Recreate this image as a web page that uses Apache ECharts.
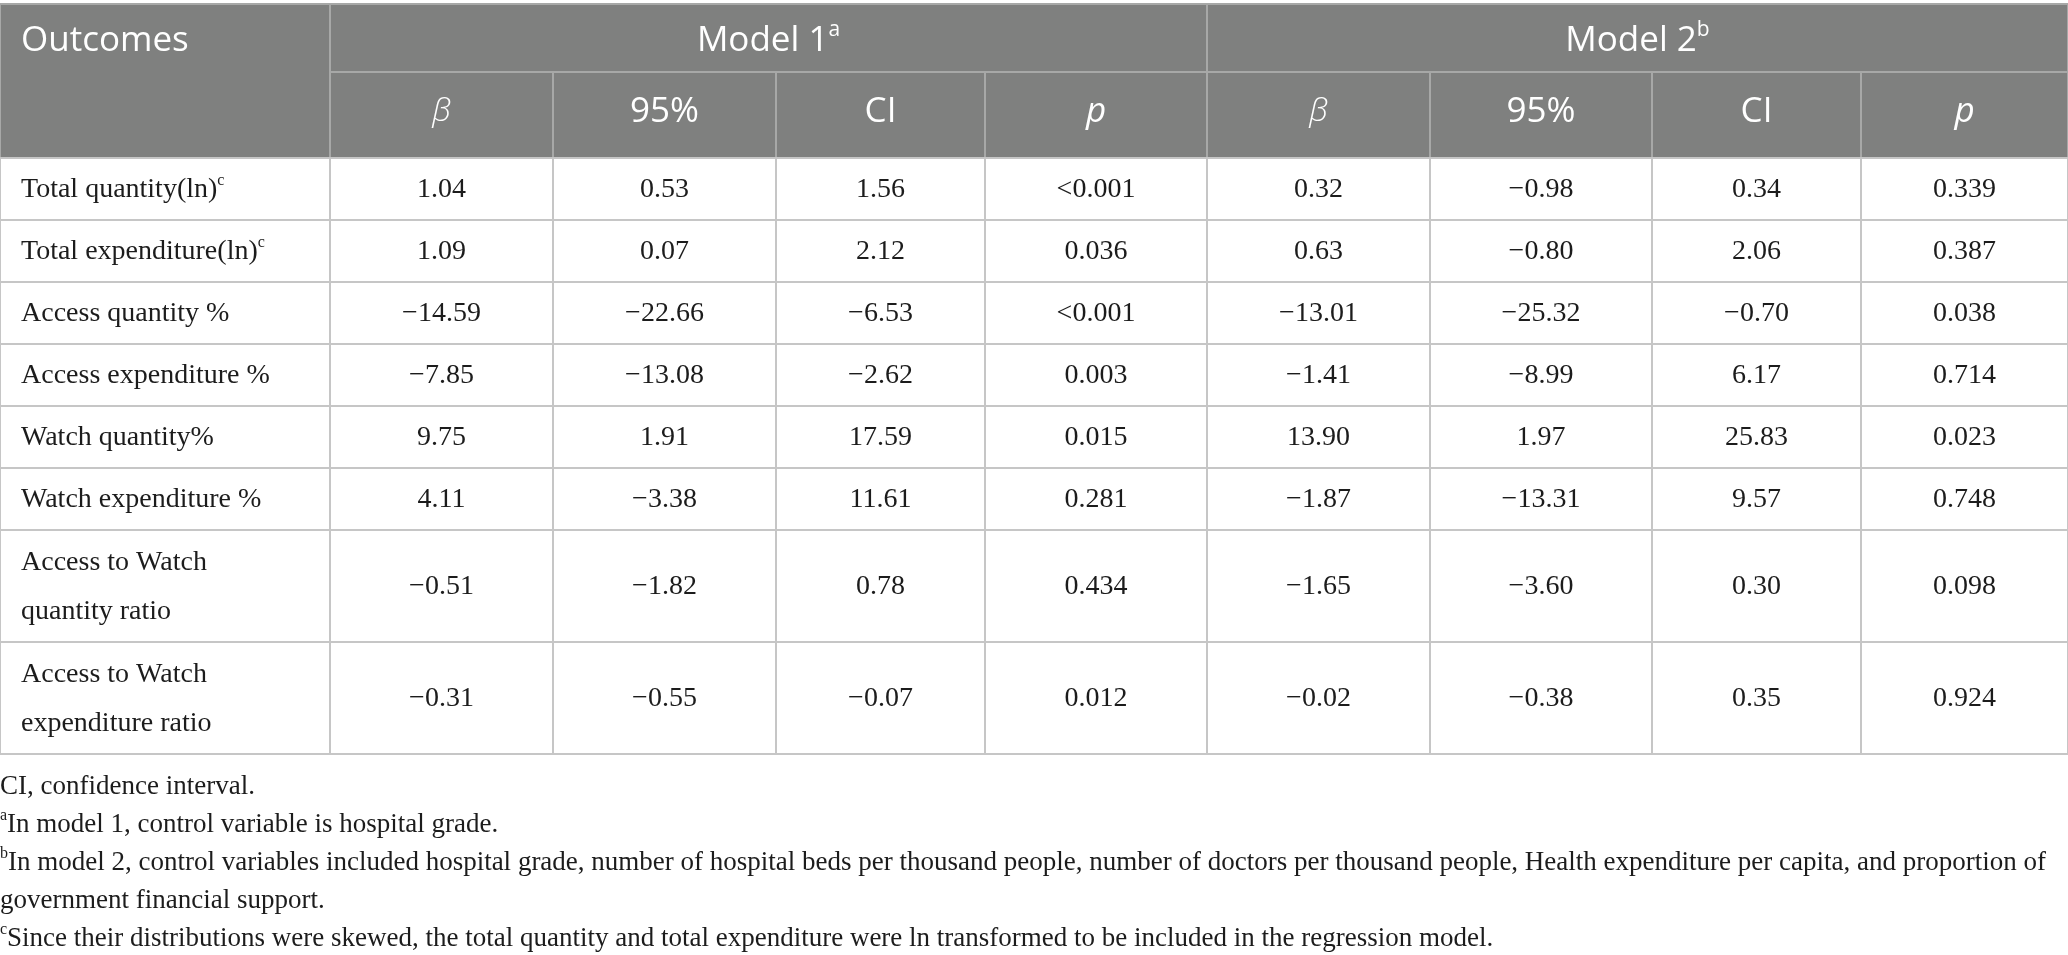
<!DOCTYPE html>
<html>
<head>
<meta charset="utf-8">
<script src="https://cdn.jsdelivr.net/npm/echarts@6/dist/echarts.min.js"></script>
<style>
html,body{margin:0;padding:0;background:#ffffff;}
#chart{width:2068px;height:955px;}
</style>
</head>
<body>
<div id="chart"></div>
<script>
// ---------------- data ----------------
const rowHeaderTitle = 'Outcomes';
const groupHeaders = ['Model 1', 'Model 2'];
const groupNotes = ['a', 'b'];
const subHeaders = ['β', '95%', 'CI', 'p'];
const subItalic = [true, false, false, true];

const outcomeLabels = [
  'Total quantity(ln)',
  'Total expenditure(ln)',
  'Access quantity %',
  'Access expenditure %',
  'Watch quantity%',
  'Watch expenditure %',
  'Access to Watch\nquantity ratio',
  'Access to Watch\nexpenditure ratio'
];
const outcomeNotes = ['c', 'c', '', '', '', '', '', ''];

const m1Beta  = [1.04, 1.09, -14.59, -7.85, 9.75, 4.11, -0.51, -0.31];
const m1Lower = [0.53, 0.07, -22.66, -13.08, 1.91, -3.38, -1.82, -0.55];
const m1Upper = [1.56, 2.12, -6.53, -2.62, 17.59, 11.61, 0.78, -0.07];
const m1P     = ['<0.001', '0.036', '<0.001', '0.003', '0.015', '0.281', '0.434', '0.012'];

const m2Beta  = [0.32, 0.63, -13.01, -1.41, 13.90, -1.87, -1.65, -0.02];
const m2Lower = [-0.98, -0.80, -25.32, -8.99, 1.97, -13.31, -3.60, -0.38];
const m2Upper = [0.34, 2.06, -0.70, 6.17, 25.83, 9.57, 0.30, 0.35];
const m2P     = ['0.339', '0.387', '0.038', '0.714', '0.023', '0.748', '0.098', '0.924'];

const footnoteNotes = ['', 'a', 'b', '', 'c'];
const footnoteTexts = [
  'CI, confidence interval.',
  'In model 1, control variable is hospital grade.',
  'In model 2, control variables included hospital grade, number of hospital beds per thousand people, number of doctors per thousand people, Health expenditure per capita, and proportion of',
  'government financial support.',
  'Since their distributions were skewed, the total quantity and total expenditure were ln transformed to be included in the regression model.'
];

// ---------------- layout (not data) ----------------
const colWidths = [330, 223, 223, 209, 222, 223, 222, 209, 207];
const rowHeights = [68, 86, 62, 62, 62, 62, 62, 62, 112, 112];
const HEAD_BG = '#7f807f';
const HEAD_LINE = '#a7a8a7';
const BODY_LINE = '#c6c6c6';
const TEXT = '#1c1c1c';
const SERIF = '"Liberation Serif", "DejaVu Serif", serif';
const SANS = '"Open Sans", "Noto Sans", sans-serif';

function cumulative(a) { const r = [0]; a.forEach(v => r.push(r[r.length - 1] + v)); return r; }
const colEdges = cumulative(colWidths);
const rowEdges = cumulative(rowHeights);

function fmt(v) { return (v < 0 ? '\u2212' : '') + Math.abs(v).toFixed(2); }

const RICH = {
  hm: { fontFamily: SANS, fontSize: 35, fill: '#ffffff', lineHeight: 44 },
  hs: { fontFamily: SANS, fontSize: 21, fill: '#ffffff', lineHeight: 16, padding: [0, 0, 22, 0] },
  hi: { fontFamily: SANS, fontSize: 35, fill: '#ffffff', fontStyle: 'italic', lineHeight: 44 },
  hb: { fontFamily: SANS, fontSize: 32, fontWeight: 300, fill: '#ffffff', fontStyle: 'italic', lineHeight: 44 },
  b:  { fontFamily: SERIF, fontSize: 28, fill: TEXT, lineHeight: 49 },
  bn: { fontFamily: SERIF, fontSize: 28, fill: TEXT },
  bs: { fontFamily: SERIF, fontSize: 16, fill: TEXT, lineHeight: 14, padding: [0, 0, 19, 0] },
  f:  { fontFamily: SERIF, fontSize: 27, fill: TEXT, lineHeight: 38 },
  fs: { fontFamily: SERIF, fontSize: 16, fill: TEXT, lineHeight: 14, padding: [0, 0, 18, 0] }
};

// ---------------- cells ----------------
const cells = [];
cells.push({ c0: 0, c1: 1, r0: 0, r1: 2, textRow: 0, dy: 3, left: true, head: true, text: `{hm|${rowHeaderTitle}}` });
groupHeaders.forEach((g, i) => {
  cells.push({ c0: 1 + 4 * i, c1: 5 + 4 * i, r0: 0, r1: 1, dy: 3, head: true, text: `{hm|${g}}{hs|${groupNotes[i]}}` });
  subHeaders.forEach((s, j) => {
    const tag = j === 0 ? 'hb' : (subItalic[j] ? 'hi' : 'hm');
    cells.push({ c0: 1 + 4 * i + j, c1: 2 + 4 * i + j, r0: 1, r1: 2, dy: -3, head: true, text: `{${tag}|${s}}` });
  });
});
const bodyCols = [m1Beta.map(fmt), m1Lower.map(fmt), m1Upper.map(fmt), m1P,
                  m2Beta.map(fmt), m2Lower.map(fmt), m2Upper.map(fmt), m2P];
outcomeLabels.forEach((lab, k) => {
  const r = 2 + k;
  const lines = lab.split('\n');
  let t = lines.map(l => `{b|${l}}`).join('\n');
  if (outcomeNotes[k]) t += `{bs|${outcomeNotes[k]}}`;
  cells.push({ c0: 0, c1: 1, r0: r, r1: r + 1, dy: 1, left: true, head: false, text: t });
  bodyCols.forEach((col, j) => {
    cells.push({ c0: 1 + j, c1: 2 + j, r0: r, r1: r + 1, dy: 1, head: false, text: `{bn|${col[k]}}` });
  });
});

const cellData = cells.map((c, i) => [colEdges[c.c0], colEdges[c.c1], rowEdges[c.r0], rowEdges[c.r1], i]);

const footText = footnoteTexts.map((t, i) =>
  (footnoteNotes[i] ? `{fs|${footnoteNotes[i]}}` : '') + `{f|${t}}`).join('\n');

const chart = echarts.init(document.getElementById('chart'), null, { renderer: 'canvas' });
chart.setOption({
  animation: false,
  backgroundColor: '#ffffff',
  grid: { left: 0, top: 4, width: colEdges[colEdges.length - 1], height: rowEdges[rowEdges.length - 1] },
  xAxis: { type: 'value', min: 0, max: colEdges[colEdges.length - 1], show: false },
  yAxis: { type: 'value', min: 0, max: rowEdges[rowEdges.length - 1], inverse: true, show: false },
  series: [{
    type: 'custom',
    data: cellData,
    encode: { x: [0, 1], y: [2, 3] },
    clip: false,
    renderItem: function (params, api) {
      const c = cells[api.value(4)];
      const p0 = api.coord([api.value(0), api.value(2)]);
      const p1 = api.coord([api.value(1), api.value(3)]);
      const tx = c.left ? p0[0] + 21 : (p0[0] + p1[0]) / 2;
      const ty = (c.textRow != null
        ? api.coord([0, (rowEdges[c.textRow] + rowEdges[c.textRow + 1]) / 2])[1]
        : (p0[1] + p1[1]) / 2) + (c.dy || 0);
      return {
        type: 'group',
        children: [
          { type: 'rect', shape: { x: p0[0], y: p0[1], width: p1[0] - p0[0], height: p1[1] - p0[1] },
            style: { fill: c.head ? HEAD_BG : '#ffffff', stroke: c.head ? HEAD_LINE : BODY_LINE, lineWidth: 2 } },
          { type: 'text', z2: 10,
            style: { x: tx, y: ty, text: c.text, rich: RICH, align: c.left ? 'left' : 'center', verticalAlign: 'middle',
                     fontFamily: SERIF, fontSize: 28, fill: TEXT } }
        ]
      };
    }
  }],
  graphic: [{
    type: 'text', left: 0, top: 773,
    style: { text: footText, rich: RICH, fontFamily: SERIF, fontSize: 27, fill: TEXT }
  }]
});
</script>
</body>
</html>
